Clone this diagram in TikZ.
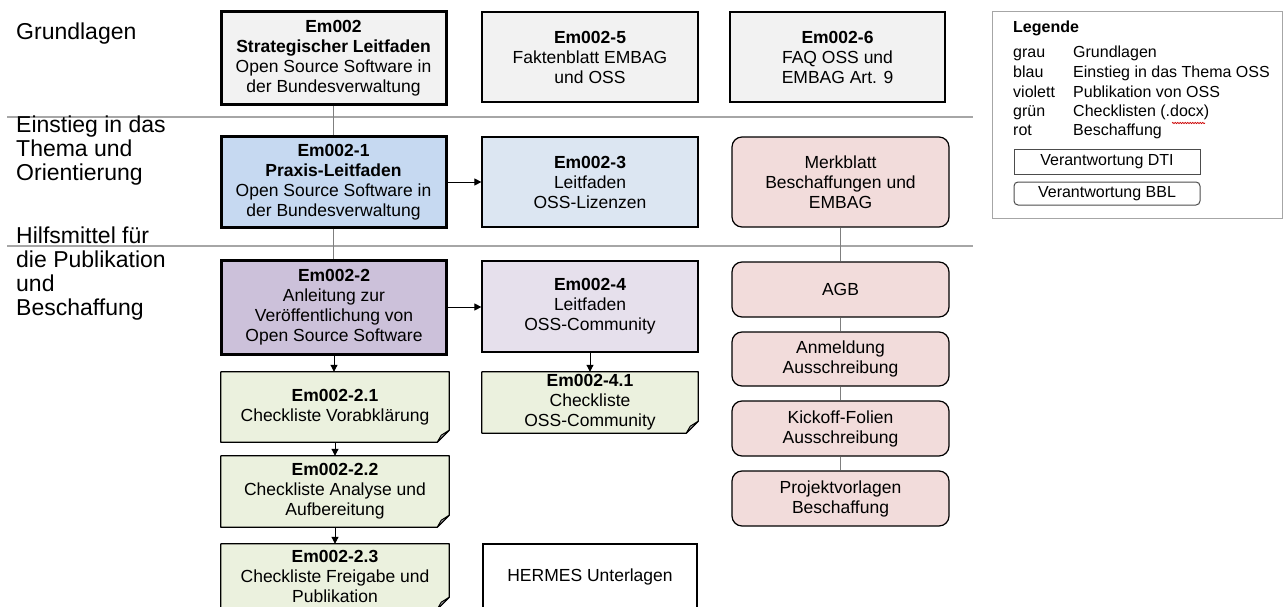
\documentclass[tikz,border=0pt]{standalone}
\usepackage{fontspec}
\setmainfont{Liberation Sans}
\usetikzlibrary{arrows.meta,backgrounds,decorations.pathmorphing}

\definecolor{grayfill}{HTML}{F2F2F2}
\definecolor{bluedark}{HTML}{C6D9F1}
\definecolor{bluelight}{HTML}{DCE6F2}
\definecolor{violetdark}{HTML}{CCC1DA}
\definecolor{violetlight}{HTML}{E6E0EC}
\definecolor{greenfill}{HTML}{EBF1DE}
\definecolor{redfill}{HTML}{F2DCDB}
\definecolor{sepline}{HTML}{A6A6A6}
\definecolor{linkgray}{HTML}{7F7F7F}
\definecolor{foldgray}{HTML}{A5A5A5}

% checklist document with a folded lower right corner
\newcommand\drawnote[1]{%
  \path[fill=greenfill, draw=black, line width=1.2pt, line join=round]
    (#1.north west) -- (#1.north east) -- ([yshift=12pt]#1.south east)
    -- ([xshift=-12pt]#1.south east) -- (#1.south west) -- cycle;
  \path[fill=foldgray, draw=black, line width=0.9pt, line join=round]
    ([yshift=12pt]#1.south east) -- ([xshift=-12pt]#1.south east)
    -- ([xshift=-8pt,yshift=7pt]#1.south east) -- cycle;
}

\begin{document}
\begin{tikzpicture}[x=1pt,y=-1pt,
  boxtext/.style={font=\fontsize{17.5}{20}\selectfont, align=center, inner sep=0pt},
  doc/.style={boxtext, draw=black, line width=1.2pt, rectangle},
  keydoc/.style={doc, line width=3pt},
  proc/.style={doc, fill=redfill, rounded corners=10pt, minimum width=217pt},
  note/.style={boxtext},
  sep/.style={draw=sepline, line width=1.5pt},
  link/.style={draw=linkgray, line width=1pt},
  arr/.style={draw=black, line width=1pt, -{Triangle[length=7pt,width=7pt]}},
  lane/.style={font=\fontsize{23}{24}\selectfont, align=left, anchor=west, inner sep=0pt},
  legtext/.style={font=\fontsize{16}{19.5}\selectfont, anchor=west, inner sep=0pt,
    text height=11.5pt, text depth=3.4pt},
  ]
\useasboundingbox (0,0) rectangle (1285,607);

% lane separators
\coordinate (s1a) at (7,117);  \coordinate (s1b) at (973,117);
\coordinate (s2a) at (7,246);  \coordinate (s2b) at (973,246);
\draw[sep] (s1a) -- (s1b);
\draw[sep] (s2a) -- (s2b);

% lane titles
\node[lane] (laneA) at (16,34) {Grundlagen};
\node[lane] (laneB) at (16,151) {Einstieg in das\\Thema und\\Orientierung};
\node[lane] (laneC) at (16,273.5) {Hilfsmittel für\\die Publikation\\und\\Beschaffung};

% Grundlagen
\node[keydoc, fill=grayfill, minimum width=225pt, minimum height=93pt] (em002) at (333.5,58.5)
  {\textbf{Em002}\\\textbf{Strategischer Leitfaden}\\Open Source Software in\\der Bundesverwaltung};
\node[doc, fill=grayfill, minimum width=216pt, minimum height=90pt] (em5) at (590,57)
  {\textbf{Em002-5}\\Faktenblatt EMBAG\\und OSS};
\node[doc, fill=grayfill, minimum width=215pt, minimum height=90pt] (em6) at (837.5,57)
  {\textbf{Em002-6}\\FAQ OSS und\\EMBAG Art. 9};

% Einstieg
\node[keydoc, fill=bluedark, minimum width=225pt, minimum height=90pt] (em1) at (333.5,182)
  {\textbf{Em002-1}\\\textbf{Praxis-Leitfaden}\\Open Source Software in\\der Bundesverwaltung};
\node[doc, fill=bluelight, minimum width=216pt, minimum height=90pt] (em3) at (590,182)
  {\textbf{Em002-3}\\Leitfaden\\OSS-Lizenzen};
\node[proc, minimum height=90pt] (merk) at (840.5,182)
  {Merkblatt\\Beschaffungen und\\EMBAG};

% Hilfsmittel
\node[keydoc, fill=violetdark, minimum width=225pt, minimum height=94pt] (em2) at (334,307)
  {\textbf{Em002-2}\\Anleitung zur\\Veröffentlichung von\\Open Source Software};
\node[doc, fill=violetlight, minimum width=216pt, minimum height=91pt] (em4) at (590,306.5)
  {\textbf{Em002-4}\\Leitfaden\\OSS-Community};

\node[note, minimum width=228pt, minimum height=70pt] (c21) at (335,407)
  {\textbf{Em002-2.1}\\Checkliste Vorabklärung};
\node[note, minimum width=228pt, minimum height=71pt] (c22) at (335,491.5)
  {\textbf{Em002-2.2}\\Checkliste Analyse und\\Aufbereitung};
\node[note, minimum width=228pt, minimum height=65pt] (c23) at (335,576.5)
  {\textbf{Em002-2.3}\\Checkliste Freigabe und\\Publikation};
\node[note, minimum width=216pt, minimum height=61pt] (c41) at (590,402.5)
  {\textbf{Em002-4.1}\\Checkliste\\OSS-Community};
\node[doc, fill=white, minimum width=214pt, minimum height=65pt] (hermes) at (590,576.5)
  {HERMES Unterlagen};

\node[proc, minimum height=55pt] (agb) at (840.5,289.5) {AGB};
\node[proc, minimum height=54pt] (anm) at (840.5,359) {Anmeldung\\Ausschreibung};
\node[proc, minimum height=55pt] (kick) at (840.5,428.5) {Kickoff-Folien\\Ausschreibung};
\node[proc, minimum height=55pt] (proj) at (840.5,498.5) {Projektvorlagen\\Beschaffung};

\begin{scope}[on background layer]
  \drawnote{c21}
  \drawnote{c22}
  \drawnote{c23}
  \drawnote{c41}
\end{scope}

% connectors
\draw[link] (em002.south) -- (em1.north);
\draw[link] (em1.south) -- (em1.south |- em2.north);
\draw[arr] (em1.east) -- (em3.west);
\draw[arr] (em2.east) -- (em2.east -| em4.west);
\draw[arr] (em4.south) -- (c41.north);
\draw[arr] (em2.south) -- (em2.south |- c21.north);
\draw[arr] (c21.south) -- (c22.north);
\draw[arr] (c22.south) -- (c23.north);
\draw[link] (merk.south) -- (agb.north);
\draw[link] (agb.south) -- (anm.north);
\draw[link] (anm.south) -- (kick.north);
\draw[link] (kick.south) -- (proj.north);

% legend
\node[draw=sepline, line width=1pt, minimum width=290pt, minimum height=206pt, inner sep=0pt] (legend) at (1137,115) {};
\node[font=\fontsize{16}{19}\selectfont\bfseries, anchor=west, inner sep=0pt] (legtitle) at (1013,28) {Legende};
\foreach \k/\v/\y [count=\i] in {grau/Grundlagen/53, blau/Einstieg in das Thema OSS/73,
    violett/Publikation von OSS/93, grün/Checklisten (.docx)/112, rot/Beschaffung/131} {
  \node[legtext] (lk\i) at (1013,\y) {\k};
  \node[legtext] (lv\i) at (1073,\y) {\v};
}
\draw[red!80!black, line width=0.7pt, decorate, decoration={snake, amplitude=0.7pt, segment length=2.5pt}]
  (1172,123) -- (1205,123);
\node[draw=black!70, line width=1pt, minimum width=186pt, minimum height=24pt, inner sep=0pt,
  font=\fontsize{16}{19}\selectfont] (dti) at (1107,162) {Verantwortung DTI};
\node[draw=black!70, line width=1pt, rounded corners=4pt, minimum width=186pt, minimum height=23pt,
  inner sep=0pt, font=\fontsize{16}{19}\selectfont] (bbl) at (1107,193.5) {Verantwortung BBL};
\end{tikzpicture}
\end{document}
